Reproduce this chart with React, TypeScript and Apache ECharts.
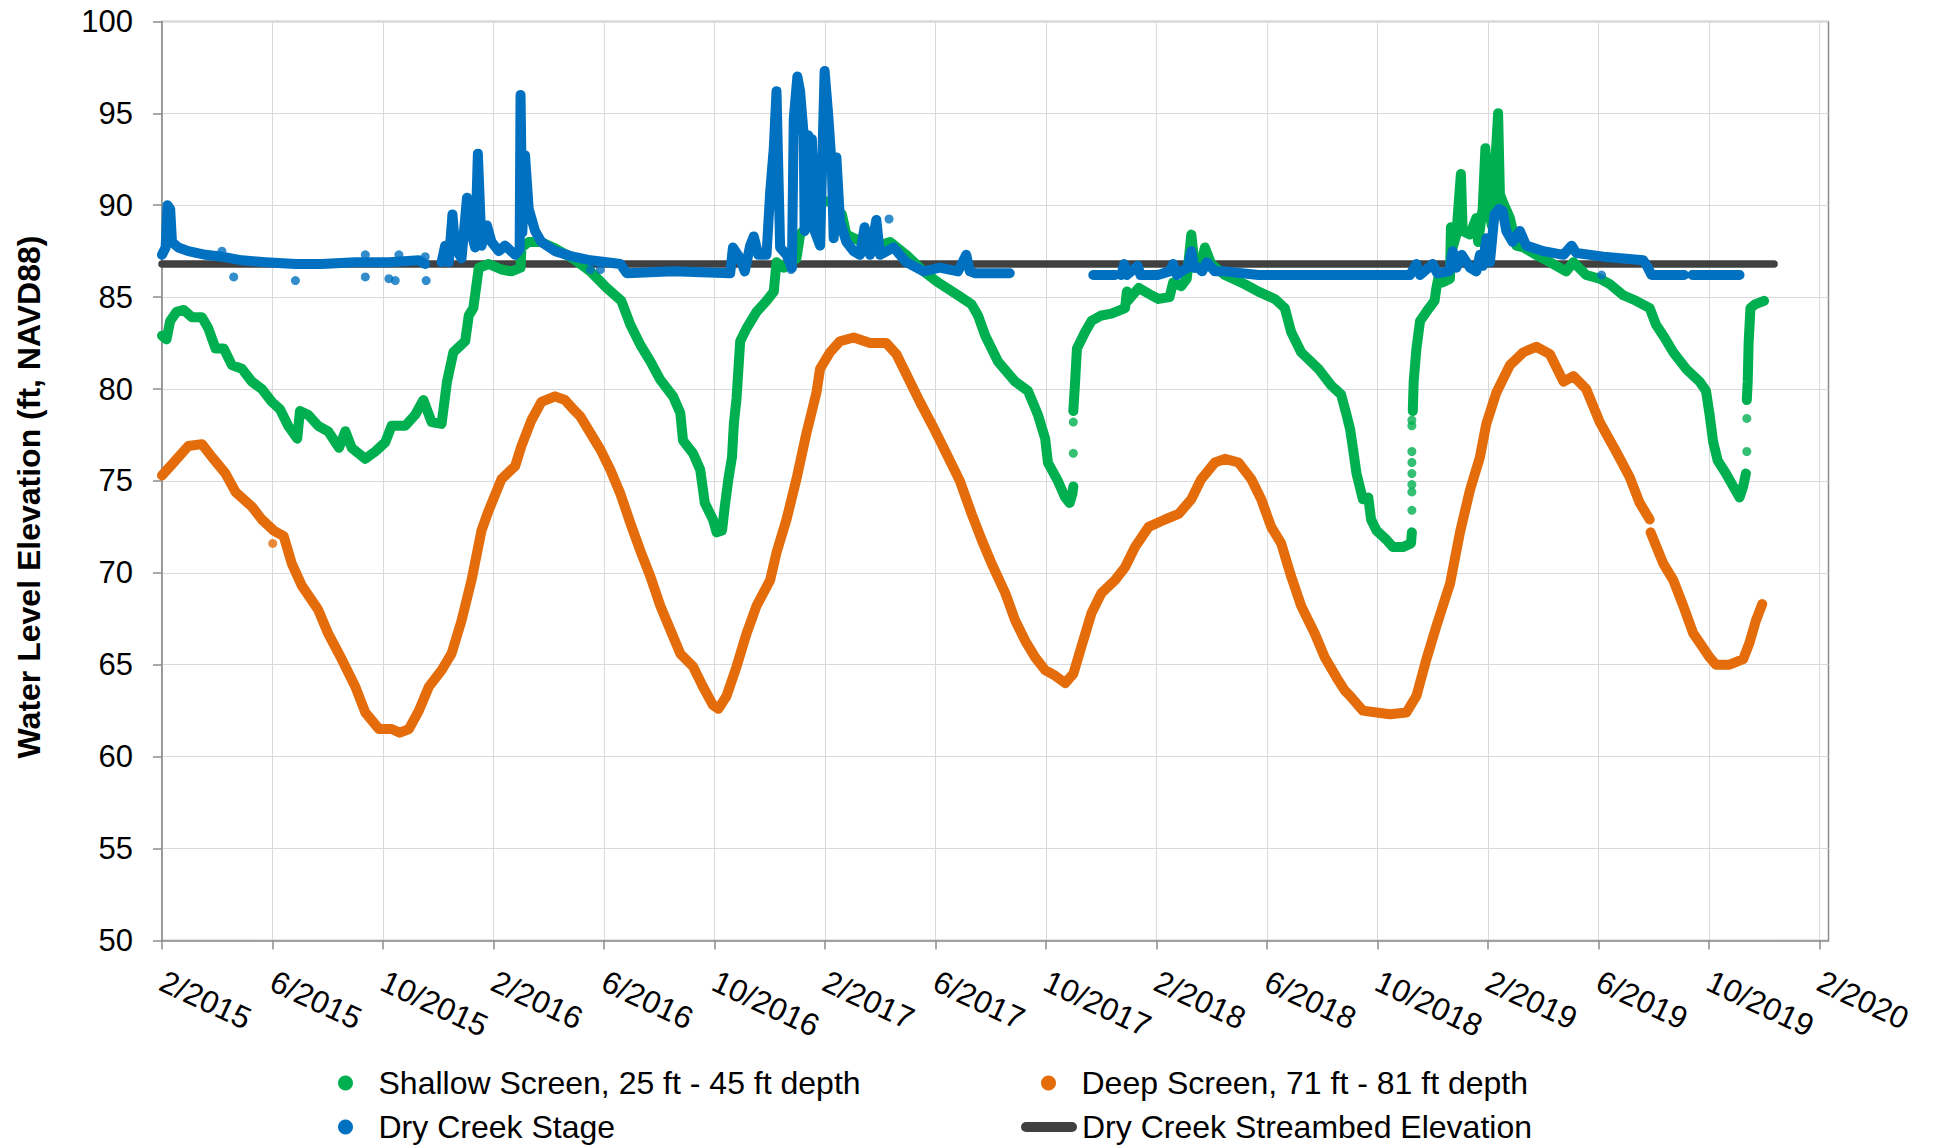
import React, { useEffect, useRef } from 'react';
import * as echarts from 'echarts';

// x values are days since 1 Feb 2015 (the first tick of the axis)
const X_STEP = 1826 / 15; // one 4-month tick interval, in days
const X_MAX = 1836;
const xTickLabels = ['2/2015', '6/2015', '10/2015', '2/2016', '6/2016', '10/2016', '2/2017', '6/2017', '10/2017', '2/2018', '6/2018', '10/2018', '2/2019', '6/2019', '10/2019', '2/2020'];
const Y_MIN = 50;
const Y_MAX = 100;
const Y_STEP = 5;

const NAME_SHALLOW = 'Shallow Screen, 25 ft - 45 ft depth';
const NAME_DEEP = 'Deep Screen, 71 ft - 81 ft depth';
const NAME_STAGE = 'Dry Creek Stage';
const NAME_BED = 'Dry Creek Streambed Elevation';

// Shallow screen (green), continuous runs of readings
const shallowSegments: number[][][] = [
  [[0, 82.9], [5, 82.7], [9, 83.7], [16, 84.2], [24, 84.3], [33, 83.9], [44, 83.9], [51, 83.3], [59, 82.2], [68, 82.2], [77, 81.3], [88, 81.1], [99, 80.4], [110, 80.0], [121, 79.3], [130, 78.9], [139, 78.0], [149, 77.3], [152, 78.8], [161, 78.6], [172, 78.0], [183, 77.7], [195, 76.8], [202, 77.7], [209, 76.8], [224, 76.2], [235, 76.6], [246, 77.1], [253, 78.0], [268, 78.0], [279, 78.6], [288, 79.4], [297, 78.2], [308, 78.1], [314, 80.4], [321, 82.0], [334, 82.6], [338, 84.0], [343, 84.4], [349, 86.6], [360, 86.8], [374, 86.5], [385, 86.4], [395, 86.6], [396, 87.7], [404, 88.0], [417, 88.0], [431, 87.7], [453, 87.1], [472, 86.4], [490, 85.5], [506, 84.8], [516, 83.5], [527, 82.4], [538, 81.5], [549, 80.5], [563, 79.6], [571, 78.7], [574, 77.2], [585, 76.5], [593, 75.6], [598, 73.8], [607, 72.9], [611, 72.2], [617, 72.3], [620, 73.6], [624, 75.1], [628, 76.3], [630, 78.1], [633, 79.5], [637, 82.6], [644, 83.3], [655, 84.2], [666, 84.8], [674, 85.3], [677, 86.9], [685, 86.6], [699, 87.1], [703, 88.4], [710, 88.8], [725, 90.2], [736, 90.2], [749, 89.5], [754, 88.4], [784, 87.7], [802, 88.0], [820, 87.3], [839, 86.4], [855, 85.8], [877, 85.1], [892, 84.6], [899, 84.0], [907, 82.9], [921, 81.5], [940, 80.4], [954, 79.9], [965, 78.6], [973, 77.3], [976, 76.0], [987, 75.0], [995, 74.1], [1000, 73.8], [1003, 74.3], [1004, 74.7]],
  [[1004, 78.8], [1006, 80.4], [1008, 82.2], [1017, 83.1], [1024, 83.7], [1035, 84.0], [1046, 84.1], [1061, 84.4], [1063, 85.3], [1064, 84.8], [1076, 85.5], [1090, 85.1], [1098, 84.9], [1110, 85.0], [1114, 85.8], [1123, 85.6], [1129, 86.0], [1134, 88.4], [1138, 86.6], [1145, 86.9], [1149, 87.7], [1156, 86.8], [1171, 86.2], [1193, 85.7], [1208, 85.3], [1226, 84.9], [1237, 84.4], [1244, 83.1], [1255, 82.0], [1274, 81.1], [1288, 80.2], [1299, 79.7], [1305, 78.6], [1309, 77.8], [1312, 76.8], [1316, 75.4], [1323, 74.0], [1329, 74.1], [1332, 72.9], [1338, 72.3], [1349, 71.8], [1356, 71.4], [1367, 71.4], [1376, 71.6], [1377, 72.2]],
  [[1378, 78.8], [1379, 80.4], [1382, 82.2], [1386, 83.7], [1393, 84.2], [1402, 84.8], [1404, 85.5], [1406, 86.0], [1411, 85.8], [1419, 86.0], [1420, 88.8], [1422, 87.7], [1426, 88.4], [1431, 91.7], [1433, 88.6], [1441, 88.4], [1448, 89.3], [1450, 88.0], [1455, 89.8], [1458, 93.1], [1461, 90.2], [1465, 88.9], [1472, 95.0], [1474, 90.6], [1477, 90.2], [1485, 89.3], [1492, 87.8], [1500, 87.7], [1514, 87.3], [1529, 86.9], [1547, 86.4], [1555, 86.9], [1569, 86.2], [1584, 86.0], [1595, 85.7], [1610, 85.1], [1624, 84.8], [1639, 84.4], [1646, 83.5], [1654, 82.9], [1665, 82.0], [1679, 81.1], [1694, 80.4], [1701, 79.9], [1705, 78.6], [1709, 77.1], [1714, 76.1], [1723, 75.4], [1731, 74.7], [1738, 74.1], [1742, 74.7], [1745, 75.4]],
  [[1746, 79.4], [1747, 80.4], [1748, 82.5], [1750, 84.4], [1755, 84.6], [1765, 84.8]],
];
const shallowDots: number[][] = [[1004, 76.5], [1004, 78.2], [1377, 73.4], [1377, 74.4], [1377, 74.8], [1377, 75.4], [1377, 76.0], [1377, 76.6], [1377, 78.0], [1377, 78.3], [1746, 76.6], [1746, 78.4]];

// Deep screen (orange)
const deepSegments: number[][][] = [
  [[0, 75.3], [11, 75.9], [29, 76.9], [44, 77.0], [55, 76.3], [70, 75.4], [81, 74.4], [99, 73.6], [110, 72.9], [123, 72.3], [134, 72.0], [143, 70.5], [154, 69.3], [172, 68.0], [183, 66.7], [198, 65.3], [213, 63.8], [224, 62.4], [239, 61.5], [253, 61.5], [262, 61.3], [272, 61.5], [283, 62.5], [294, 63.8], [308, 64.7], [319, 65.6], [330, 67.4], [341, 69.6], [352, 72.3], [360, 73.4], [374, 75.1], [389, 75.8], [396, 76.9], [407, 78.3], [418, 79.3], [433, 79.6], [444, 79.4], [455, 78.8], [461, 78.5], [472, 77.6], [483, 76.7], [494, 75.6], [505, 74.3], [516, 72.7], [527, 71.2], [538, 69.8], [549, 68.2], [560, 66.9], [571, 65.6], [585, 64.9], [596, 63.8], [607, 62.8], [613, 62.6], [622, 63.3], [633, 64.9], [644, 66.7], [655, 68.2], [670, 69.6], [677, 71.1], [688, 72.9], [699, 75.1], [710, 77.6], [721, 79.8], [725, 81.1], [736, 82.0], [747, 82.6], [762, 82.8], [780, 82.5], [798, 82.5], [809, 81.9], [820, 80.8], [835, 79.3], [850, 77.9], [861, 76.8], [879, 75.0], [892, 73.2], [903, 71.8], [914, 70.5], [929, 68.9], [940, 67.4], [951, 66.3], [962, 65.4], [973, 64.7], [984, 64.4], [995, 64.0], [1004, 64.5], [1013, 66.0], [1024, 67.8], [1035, 68.9], [1050, 69.6], [1061, 70.3], [1072, 71.4], [1087, 72.5], [1105, 72.9], [1120, 73.2], [1134, 74.0], [1145, 75.1], [1160, 76.0], [1171, 76.2], [1186, 76.0], [1200, 75.1], [1211, 74.0], [1222, 72.5], [1233, 71.6], [1244, 69.8], [1255, 68.2], [1270, 66.7], [1281, 65.4], [1294, 64.3], [1303, 63.6], [1309, 63.3], [1323, 62.5], [1338, 62.4], [1353, 62.3], [1371, 62.4], [1382, 63.3], [1393, 65.3], [1404, 67.1], [1419, 69.4], [1430, 72.2], [1441, 74.5], [1452, 76.3], [1459, 78.1], [1470, 79.8], [1485, 81.3], [1500, 82.0], [1514, 82.3], [1529, 81.9], [1544, 80.4], [1555, 80.7], [1569, 80.0], [1584, 78.2], [1602, 76.6], [1617, 75.2], [1628, 73.8], [1639, 72.9]],
  [[1640, 72.2], [1654, 70.5], [1665, 69.6], [1676, 68.2], [1687, 66.7], [1694, 66.2], [1705, 65.4], [1712, 65.0], [1727, 65.0], [1742, 65.3], [1749, 66.2], [1756, 67.4], [1763, 68.3]],
];
const deepDots: number[][] = [[122, 71.6]];

// Dry Creek stage (blue)
const stageSegments: number[][][] = [
  [[0, 87.3], [4, 87.7], [6, 90.0], [9, 89.8], [11, 88.0], [18, 87.7], [29, 87.5], [48, 87.3], [66, 87.2], [88, 87.0], [114, 86.9], [147, 86.8], [176, 86.8], [213, 86.9], [250, 86.9], [283, 87.0], [290, 86.8]],
  [[308, 86.9], [312, 87.8], [316, 86.9], [320, 89.5], [323, 87.7], [330, 87.1], [336, 90.4], [339, 88.8], [345, 87.7], [348, 92.8], [352, 87.8], [358, 88.9], [363, 88.0], [371, 87.5], [378, 87.8], [389, 87.3], [394, 87.6], [395, 96.0], [397, 88.5], [400, 92.7], [404, 89.8], [411, 88.6], [418, 88.0], [433, 87.5], [453, 87.2], [472, 87.0], [490, 86.9], [505, 86.8], [512, 86.3], [563, 86.4], [626, 86.3], [629, 87.7], [637, 87.1], [642, 86.4], [648, 87.8], [652, 88.3], [657, 87.3], [666, 87.3], [670, 90.7], [674, 93.1], [677, 96.2], [681, 87.7], [688, 87.3], [694, 86.6], [696, 94.7], [700, 97.0], [703, 96.2], [705, 95.0], [707, 93.8], [708, 88.6], [710, 88.9], [712, 93.8], [714, 88.8], [716, 93.6], [719, 88.6], [725, 87.8], [730, 97.3], [734, 94.9], [738, 92.0], [740, 88.2], [743, 92.6], [747, 89.1], [754, 88.0], [762, 87.5], [769, 87.3], [774, 88.8], [780, 87.3], [787, 89.2], [791, 87.3], [806, 87.7], [820, 86.9], [839, 86.4], [857, 86.6], [877, 86.4], [886, 87.3], [890, 86.4], [896, 86.3], [934, 86.3]],
  [[1026, 86.2], [1050, 86.2]],
  [[1057, 86.2], [1060, 86.8], [1063, 86.2], [1075, 86.7], [1078, 86.2], [1097, 86.2], [1110, 86.4], [1114, 86.8], [1118, 86.2], [1123, 86.4], [1130, 86.6], [1134, 87.5], [1137, 86.6], [1142, 86.6], [1146, 86.4], [1151, 86.9], [1160, 86.4], [1171, 86.4], [1208, 86.2], [1303, 86.2], [1375, 86.2], [1382, 86.8], [1386, 86.2], [1400, 86.8], [1405, 86.3], [1418, 86.4], [1422, 87.5], [1426, 86.6], [1432, 87.3], [1441, 86.6], [1448, 86.4], [1452, 87.3], [1455, 86.7], [1459, 88.2], [1463, 86.9], [1468, 89.5], [1473, 89.8], [1477, 89.7], [1481, 88.6], [1488, 88.0], [1496, 88.6], [1503, 87.8], [1522, 87.5], [1544, 87.3], [1553, 87.8], [1558, 87.4], [1588, 87.2], [1632, 87.0], [1637, 86.6], [1641, 86.2], [1677, 86.2]],
  [[1686, 86.2], [1738, 86.2]],
];
const stageDots: number[][] = [[66, 87.5], [79, 86.1], [147, 85.9], [224, 86.1], [224, 87.3], [250, 86.0], [257, 85.9], [261, 87.3], [290, 87.2], [291, 85.9], [472, 86.5], [483, 86.5], [693, 86.5], [801, 89.25], [1586, 86.2]];

// Dry Creek streambed elevation (constant line)
const streambed: number[][] = [[0, 86.8], [1776, 86.8]];

const GREEN = '#00B050';
const ORANGE = '#E46C0A';
const BLUE = '#0070C0';
const GRAY = '#404040';
const AXIS_GRAY = '#8C8C8C';
const GRID_GRAY = '#D9D9D9';
const FONT = '"Liberation Sans", Arial, sans-serif';

function joinSegments(segments: number[][][]) {
  const out: (number | null)[][] = [];
  segments.forEach((seg, i) => {
    if (i > 0) out.push([seg[0][0], null]);
    seg.forEach((p) => out.push(p));
  });
  return out;
}

const xTickValues = xTickLabels.map((_, i) => i * X_STEP);

function lineSeries(name: string, color: string, segments: number[][][], z: number) {
  return {
    name,
    type: 'line',
    data: joinSegments(segments),
    color,
    symbol: 'none',
    showSymbol: false,
    connectNulls: false,
    lineStyle: { color, width: 10, cap: 'round', join: 'round' },
    z,
  };
}

function dotSeries(name: string, color: string, dots: number[][], z: number) {
  return {
    name,
    type: 'scatter',
    data: dots,
    color,
    symbol: 'circle',
    symbolSize: 9,
    itemStyle: { color },
    z,
  };
}

// left = left edge of the visible legend icon
function legendAt(name: string, left: number, top: number, icon: string, itemHeight: number) {
  return {
    data: [{ name, icon }],
    left,
    top,
    padding: 0,
    itemWidth: 56,
    itemHeight,
    itemGap: 0,
    selectedMode: false,
    itemStyle: { borderWidth: 0 },
    textStyle: { fontFamily: FONT, fontSize: 32, color: '#000', lineHeight: 36 },
  };
}

const BAR_ICON = 'path://M5,0L51,0A5,5,0,0,1,51,10L5,10A5,5,0,0,1,5,0Z';

export default function App() {
  const ref = useRef<HTMLDivElement>(null);
  useEffect(() => {
    if (!ref.current) return;
    const chart = echarts.init(ref.current, undefined, { renderer: 'svg' });
    chart.setOption({
      animation: false,
      backgroundColor: '#ffffff',
      grid: {
        left: 162,
        right: 106.5,
        top: 21.4,
        bottom: 204.6,
        show: true,
        borderColor: AXIS_GRAY,
        borderWidth: 1.5,
        backgroundColor: 'transparent',
      },
      xAxis: {
        type: 'value',
        min: 0,
        max: X_MAX,
        interval: X_STEP,
        axisLine: { show: true, onZero: false, lineStyle: { color: AXIS_GRAY, width: 1.5 } },
        axisTick: { show: true, inside: false, length: 9, customValues: xTickValues, lineStyle: { color: AXIS_GRAY, width: 1.5 } },
        splitLine: { show: true, lineStyle: { color: GRID_GRAY, width: 1 } },
        axisLabel: {
          customValues: xTickValues,
          interval: 0,
          rotate: -25,
          margin: 39,
          fontFamily: FONT,
          fontSize: 31.5,
          color: '#000',
          formatter: (v: number) => {
            const k = Math.round(v / X_STEP);
            if (Math.abs(v - k * X_STEP) > 0.5) return '';
            return xTickLabels[k] ?? '';
          },
        },
      },
      yAxis: {
        type: 'value',
        min: Y_MIN,
        max: Y_MAX,
        interval: Y_STEP,
        axisLine: { show: true, lineStyle: { color: AXIS_GRAY, width: 1.5 } },
        axisTick: { show: true, inside: false, length: 9, lineStyle: { color: AXIS_GRAY, width: 1.5 } },
        splitLine: { show: true, lineStyle: { color: GRID_GRAY, width: 1 } },
        axisLabel: { margin: 29, fontFamily: FONT, fontSize: 31, color: '#000' },
      },
      legend: [
        legendAt(NAME_SHALLOW, 338, 1065, 'circle', 15),
        legendAt(NAME_STAGE, 338, 1109, 'circle', 15),
        legendAt(NAME_DEEP, 1041, 1065, 'circle', 15),
        legendAt(NAME_BED, 1021, 1109, BAR_ICON, 15),
      ],
      graphic: [
        {
          type: 'text',
          x: 29,
          y: 497,
          rotation: Math.PI / 2,
          style: {
            text: 'Water Level Elevation (ft, NAVD88)',
            fontFamily: FONT,
            fontSize: 32,
            fontWeight: 'bold',
            fill: '#000',
            align: 'center',
            verticalAlign: 'middle',
          },
        },
      ],
      series: [
        {
          name: NAME_BED,
          type: 'line',
          data: streambed,
          color: GRAY,
          symbol: 'none',
          showSymbol: false,
          lineStyle: { color: GRAY, width: 7.5, cap: 'round' },
          z: 2,
        },
        lineSeries(NAME_SHALLOW, GREEN, shallowSegments, 3),
        dotSeries(NAME_SHALLOW, GREEN, shallowDots, 3),
        lineSeries(NAME_DEEP, ORANGE, deepSegments, 4),
        dotSeries(NAME_DEEP, ORANGE, deepDots, 4),
        lineSeries(NAME_STAGE, BLUE, stageSegments, 5),
        dotSeries(NAME_STAGE, BLUE, stageDots, 5),
      ],
    });
    return () => chart.dispose();
  }, []);
  return (
    <div
      ref={ref}
      style={{ position: 'fixed', left: 0, top: 0, width: '1935px', height: '1145px', background: '#fff' }}
    />
  );
}
